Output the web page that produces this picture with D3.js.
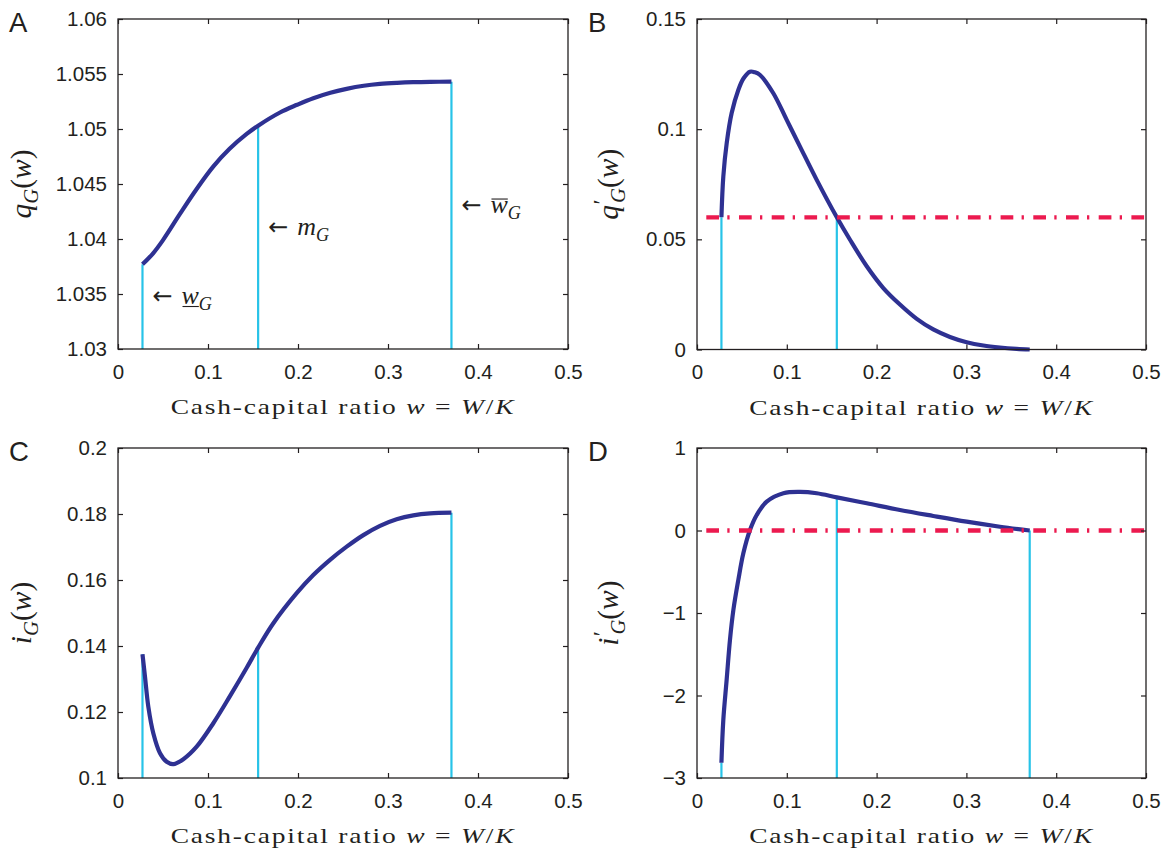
<!DOCTYPE html>
<html>
<head>
<meta charset="utf-8">
<script src="https://cdn.jsdelivr.net/npm/d3@7"></script>
<style>
  body { margin: 0; background: #fff; }
</style>
</head>
<body>
<div id="chart"></div>
<script>
// x axis, shared by all four panels
const xTicks = [0, 0.1, 0.2, 0.3, 0.4, 0.5];
const xTickLabels = ['0', '0.1', '0.2', '0.3', '0.4', '0.5'];

// boundaries: lower bound, target m_G, upper bound
const wLow = 0.0272;
const mG = 0.1557;
const wBar = 0.3705;

// A: q_G(w)
const wA = [0.0272, 0.039, 0.050, 0.069, 0.087, 0.106, 0.124, 0.143, 0.1557, 0.180, 0.199, 0.217, 0.236, 0.254, 0.273, 0.291, 0.310, 0.328, 0.347, 0.3705];
const qG = [1.0377, 1.0387, 1.0399, 1.0423, 1.0445, 1.0466, 1.0482, 1.04955, 1.0503, 1.0515, 1.0522, 1.0528, 1.0533, 1.05365, 1.05393, 1.05410, 1.05420, 1.05426, 1.05429, 1.0543];
const markA = [1.0377, 1.0503, 1.0543];
const yTicksA = [1.03, 1.035, 1.04, 1.045, 1.05, 1.055, 1.06];
const yLabelsA = ['1.03', '1.035', '1.04', '1.045', '1.05', '1.055', '1.06'];

// B: q'_G(w)
const wB = [0.0272, 0.0293, 0.0331, 0.0386, 0.046, 0.0519, 0.059, 0.0646, 0.0702, 0.085, 0.0999, 0.1147, 0.1333, 0.1557, 0.1704, 0.189, 0.2075, 0.226, 0.2447, 0.2631, 0.2817, 0.3003, 0.3189, 0.3374, 0.356, 0.3705];
const dqG = [0.0600, 0.0785, 0.0937, 0.1073, 0.1178, 0.1231, 0.1261, 0.1258, 0.1246, 0.1163, 0.1042, 0.0921, 0.0770, 0.0600, 0.0498, 0.0378, 0.0279, 0.0204, 0.0139, 0.0091, 0.0057, 0.0033, 0.0018, 0.0009, 0.0003, 0.0];
const markB = [0.06, 0.06];
const refB = 0.06;
const yTicksB = [0, 0.05, 0.1, 0.15];
const yLabelsB = ['0', '0.05', '0.1', '0.15'];

// C: i_G(w)
const wC = [0.0272, 0.030, 0.0337, 0.0393, 0.0467, 0.0541, 0.0615, 0.0726, 0.0874, 0.1059, 0.1244, 0.143, 0.1557, 0.1726, 0.1985, 0.217, 0.2356, 0.2541, 0.2726, 0.2911, 0.3096, 0.3281, 0.3467, 0.3705];
const iG = [0.1375, 0.1307, 0.1216, 0.1135, 0.1075, 0.1049, 0.1042, 0.1057, 0.1095, 0.1166, 0.1248, 0.1334, 0.1395, 0.1469, 0.1560, 0.1615, 0.1661, 0.1701, 0.1736, 0.1764, 0.1784, 0.1796, 0.1802, 0.1804];
const markC = [0.1375, 0.1395, 0.1804];
const yTicksC = [0.1, 0.12, 0.14, 0.16, 0.18, 0.2];
const yLabelsC = ['0.1', '0.12', '0.14', '0.16', '0.18', '0.2'];

// D: i'_G(w)
const wD = [0.0272, 0.0293, 0.0330, 0.0367, 0.0405, 0.046, 0.0516, 0.059, 0.0665, 0.0776, 0.0962, 0.1147, 0.1333, 0.1557, 0.189, 0.226, 0.2631, 0.3003, 0.3374, 0.3705];
const diG = [-2.815, -2.297, -1.812, -1.327, -0.964, -0.600, -0.276, 0.006, 0.188, 0.349, 0.451, 0.467, 0.451, 0.402, 0.330, 0.248, 0.176, 0.107, 0.046, 0.0];
const markD = [-2.815, 0.402, 0.0];
const refD = 0;
const yTicksD = [-3, -2, -1, 0, 1];
const yLabelsD = ['\u22123', '\u22122', '\u22121', '0', '1'];

const width = 1171;
const height = 852;
const sans = '"Liberation Sans", Arial, sans-serif';
const serif = '"Liberation Serif", "DejaVu Serif", serif';
const ink = '#231f20';
const blue = '#2e3192';
const cyan = '#27c3e8';
const red = '#ec1a4f';

const svg = d3.select('#chart')
  .append('svg')
    .attr('width', width)
    .attr('height', height);

svg.append('rect')
  .attr('width', width)
  .attr('height', height)
  .attr('fill', '#fff');

// writes a run of math-ish text: italic letters, subscripts, primes
function mathText(parent, parts, size) {
  const text = parent.append('text')
    .attr('font-family', serif)
    .attr('font-size', size)
    .attr('fill', ink);
  let shift = 0;
  parts.forEach(p => {
    const ts = text.append('tspan').text(p.t);
    let s = 0;
    if (p.i) ts.attr('font-style', 'italic');
    if (p.sub) { s = size * 0.24; ts.attr('font-size', size * 0.7); }
    if (p.sup) { s = -size * 0.3; ts.attr('font-size', size * 0.8); }
    if (s !== shift) ts.attr('dy', s - shift);
    if (p.dx) ts.attr('dx', p.dx * size);
    shift = s;
  });
  return text;
}

const xLabel = [
  { t: 'Cash-capital ratio ' }, { t: 'w', i: 1 }, { t: ' = ' },
  { t: 'W', i: 1 }, { t: '/' }, { t: 'K', i: 1 }
];

const panels = [
  {
    letter: 'A', box: [118, 19, 568, 349], yDomain: [1.03, 1.06],
    yTicks: yTicksA, yLabels: yLabelsA, w: wA, v: qG,
    markW: [wLow, mG, wBar], markV: markA, ref: null, labelX: 31,
    ylabel: [{ t: 'q', i: 1 }, { t: 'G', i: 1, sub: 1 }, { t: '(' }, { t: 'w', i: 1 }, { t: ')' }]
  },
  {
    letter: 'B', box: [697, 19, 1146, 349.5], yDomain: [0, 0.15],
    yTicks: yTicksB, yLabels: yLabelsB, w: wB, v: dqG,
    markW: [wLow, mG], markV: markB, ref: refB, labelX: 618,
    ylabel: [{ t: 'q', i: 1 }, { t: '\u2032', sup: 1, dx: 0.02 }, { t: 'G', i: 1, sub: 1, dx: -0.12 }, { t: '(' }, { t: 'w', i: 1 }, { t: ')' }]
  },
  {
    letter: 'C', box: [118, 448, 568, 778], yDomain: [0.1, 0.2],
    yTicks: yTicksC, yLabels: yLabelsC, w: wC, v: iG,
    markW: [wLow, mG, wBar], markV: markC, ref: null, labelX: 31,
    ylabel: [{ t: 'i', i: 1 }, { t: 'G', i: 1, sub: 1 }, { t: '(' }, { t: 'w', i: 1 }, { t: ')' }]
  },
  {
    letter: 'D', box: [697, 448, 1146, 778], yDomain: [-3, 1],
    yTicks: yTicksD, yLabels: yLabelsD, w: wD, v: diG,
    markW: [wLow, mG, wBar], markV: markD, ref: refD, labelX: 618,
    ylabel: [{ t: 'i', i: 1 }, { t: '\u2032', sup: 1, dx: 0.04 }, { t: 'G', i: 1, sub: 1, dx: -0.12 }, { t: '(' }, { t: 'w', i: 1 }, { t: ')' }]
  }
];

function drawPanel(p) {
  const [x0, y0, x1, y1] = p.box;
  const g = svg.append('g');

  const x = d3.scaleLinear().domain([0, 0.5]).range([x0, x1]);
  const y = d3.scaleLinear().domain(p.yDomain).range([y1, y0]);

  // cyan boundary markers
  g.selectAll('.marker')
    .data(p.markW.map((w, i) => ({ w, v: p.markV[i] })))
    .join('line')
      .attr('class', 'marker')
      .attr('x1', d => x(d.w))
      .attr('x2', d => x(d.w))
      .attr('y1', y(p.yDomain[0]))
      .attr('y2', d => y(d.v))
      .attr('stroke', cyan)
      .attr('stroke-width', 2.2);

  const line = d3.line()
    .x(d => x(d[0]))
    .y(d => y(d[1]))
    .curve(d3.curveCatmullRom.alpha(0.5));

  g.append('path')
    .datum(d3.zip(p.w, p.v))
    .attr('d', line)
    .attr('fill', 'none')
    .attr('stroke', blue)
    .attr('stroke-width', 4.2)
    .attr('stroke-linejoin', 'round');

  if (p.ref !== null) {
    g.append('line')
      .attr('x1', x(0))
      .attr('x2', x(0.5))
      .attr('y1', y(p.ref))
      .attr('y2', y(p.ref))
      .attr('stroke', red)
      .attr('stroke-width', 4.3)
      .attr('stroke-dasharray', '12.7 8.3 2.3 9.4')
      .attr('stroke-dashoffset', 23.4);
  }

  const addAxis = (axis, transform) => {
    const a = g.append('g')
      .attr('transform', transform)
      .call(axis);
    a.select('.domain').remove();
    a.attr('font-family', sans).attr('font-size', 20.5).attr('color', ink);
    a.selectAll('line').attr('stroke-width', 1.2);
    return a;
  };

  addAxis(d3.axisBottom(x).tickValues(xTicks).tickFormat((d, i) => xTickLabels[i])
    .tickSizeInner(-5).tickSizeOuter(0).tickPadding(15), `translate(0,${y1})`);
  addAxis(d3.axisTop(x).tickValues(xTicks).tickFormat('')
    .tickSizeInner(-5).tickSizeOuter(0), `translate(0,${y0})`);
  addAxis(d3.axisLeft(y).tickValues(p.yTicks).tickFormat((d, i) => p.yLabels[i])
    .tickSizeInner(-5).tickSizeOuter(0).tickPadding(11), `translate(${x0},0)`);
  addAxis(d3.axisRight(y).tickValues(p.yTicks).tickFormat('')
    .tickSizeInner(-5).tickSizeOuter(0), `translate(${x1},0)`);

  g.append('rect')
    .attr('x', x0)
    .attr('y', y0)
    .attr('width', x1 - x0)
    .attr('height', y1 - y0)
    .attr('fill', 'none')
    .attr('stroke', ink)
    .attr('stroke-width', 1.3);

  // panel letter
  g.append('text')
    .attr('x', x0 - 109)
    .attr('y', y0 + 13)
    .attr('font-family', sans)
    .attr('font-size', 27.5)
    .attr('fill', ink)
    .text(p.letter);

  // x label, widened to the Computer Modern width of the original
  const xl = g.append('g');
  const xt = mathText(xl, xLabel, 21.5)
    .attr('text-anchor', 'middle')
    .attr('letter-spacing', 1.4);
  const sx = 345 / xt.node().getBBox().width;
  xl.attr('transform', `translate(${(x0 + x1) / 2},${y1 + 65}) scale(${sx},1)`);

  // y label
  mathText(g.append('g').attr('transform', `translate(${p.labelX},${(y0 + y1) / 2}) rotate(-90)`), p.ylabel, 29.5)
    .attr('text-anchor', 'middle');

  return { x, y, g };
}

const scales = panels.map(drawPanel);

// boundary annotations in panel A
const { x: xA, y: yA, g: gA } = scales[0];
const notes = [
  { w: wLow, v: 1.03409, parts: [{ t: 'w', i: 1 }, { t: 'G', i: 1, sub: 1 }], deco: 'under' },
  { w: mG, v: 1.04036, parts: [{ t: 'm', i: 1 }, { t: 'G', i: 1, sub: 1 }], deco: null },
  { w: wBar, v: 1.04236, parts: [{ t: 'w', i: 1 }, { t: 'G', i: 1, sub: 1 }], deco: 'over' }
];

notes.forEach(n => {
  const ng = gA.append('g').attr('transform', `translate(${xA(n.w)},${yA(n.v)})`);
  ng.append('text')
    .attr('x', 10)
    .attr('font-family', '"DejaVu Sans", sans-serif')
    .attr('font-size', 24)
    .attr('fill', ink)
    .text('\u2190');
  const t = mathText(ng, n.parts, 26).attr('x', 39);
  if (n.deco) {
    const node = t.node();
    const s = node.getStartPositionOfChar(0);
    const e = node.getEndPositionOfChar(0);
    const ly = n.deco === 'under' ? 2.5 : -14;
    ng.append('line')
      .attr('x1', s.x + 1)
      .attr('x2', e.x)
      .attr('y1', ly)
      .attr('y2', ly)
      .attr('stroke', ink)
      .attr('stroke-width', 1.1);
  }
});
</script>
</body>
</html>
